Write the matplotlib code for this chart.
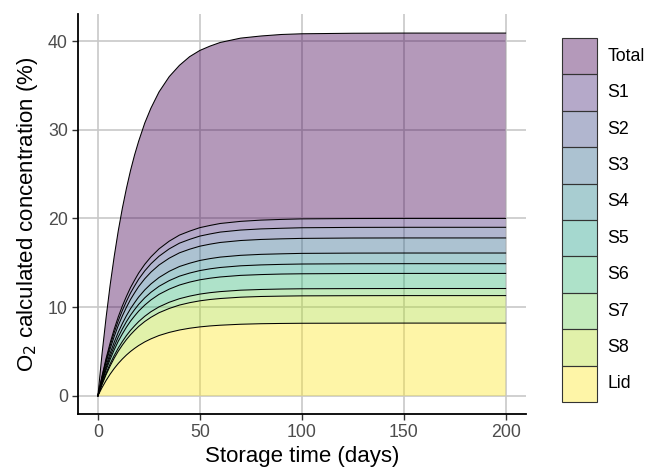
import matplotlib
matplotlib.use("Agg")
import matplotlib.pyplot as plt
from matplotlib.colors import to_rgba
from matplotlib.patches import Rectangle
import numpy as np

plt.rcParams['font.family'] = ['Liberation Sans', 'DejaVu Sans']

days = [0, 2, 4, 6, 8, 10, 12, 14, 16, 18, 20, 23, 26, 30, 35, 40, 45, 50, 55, 60,
        70, 80, 90, 100, 125, 150, 200]

# contribution of each layer (%), bottom to top
lid = [0, 0.91, 1.72, 2.44, 3.08, 3.65, 4.15, 4.60, 5.00, 5.35, 5.67, 6.08, 6.42, 6.80,
       7.15, 7.42, 7.62, 7.77, 7.88, 7.96, 8.07, 8.13, 8.16, 8.18, 8.19, 8.2, 8.2]
s8 = [0, 0.34, 0.65, 0.92, 1.16, 1.38, 1.57, 1.74, 1.89, 2.02, 2.15, 2.30, 2.43, 2.57,
      2.70, 2.81, 2.88, 2.94, 2.98, 3.01, 3.05, 3.07, 3.08, 3.09, 3.10, 3.1, 3.1]
s7 = [0, 0.09, 0.17, 0.24, 0.30, 0.36, 0.40, 0.45, 0.49, 0.52, 0.55, 0.59, 0.63, 0.66,
      0.70, 0.72, 0.74, 0.76, 0.77, 0.78, 0.79, 0.79, 0.80, 0.80, 0.80, 0.8, 0.8]
s6 = [0, 0.19, 0.36, 0.50, 0.64, 0.76, 0.86, 0.95, 1.04, 1.11, 1.18, 1.26, 1.33, 1.41,
      1.48, 1.54, 1.58, 1.61, 1.63, 1.65, 1.67, 1.68, 1.69, 1.69, 1.70, 1.7, 1.7]
s5 = [0, 0.12, 0.23, 0.33, 0.41, 0.49, 0.56, 0.62, 0.67, 0.72, 0.76, 0.82, 0.86, 0.91,
      0.96, 1.00, 1.02, 1.04, 1.06, 1.07, 1.08, 1.09, 1.09, 1.10, 1.10, 1.1, 1.1]
s4 = [0, 0.13, 0.25, 0.36, 0.45, 0.53, 0.61, 0.67, 0.73, 0.78, 0.83, 0.89, 0.94, 0.99,
      1.05, 1.09, 1.11, 1.14, 1.15, 1.17, 1.18, 1.19, 1.19, 1.20, 1.20, 1.2, 1.2]
s3 = [0, 0.19, 0.36, 0.50, 0.64, 0.76, 0.86, 0.95, 1.04, 1.11, 1.18, 1.26, 1.33, 1.41,
      1.48, 1.54, 1.58, 1.61, 1.63, 1.65, 1.67, 1.68, 1.69, 1.69, 1.70, 1.7, 1.7]
s2 = [0, 0.13, 0.25, 0.36, 0.45, 0.53, 0.61, 0.67, 0.73, 0.78, 0.83, 0.89, 0.94, 0.99,
      1.05, 1.09, 1.11, 1.14, 1.15, 1.17, 1.18, 1.19, 1.19, 1.20, 1.20, 1.2, 1.2]
s1 = [0, 0.11, 0.21, 0.30, 0.38, 0.45, 0.51, 0.56, 0.61, 0.65, 0.69, 0.74, 0.78, 0.83,
      0.87, 0.91, 0.93, 0.95, 0.96, 0.97, 0.98, 0.99, 1.00, 1.00, 1.00, 1.0, 1.0]
# overall total (%)
total = [0, 4.66, 8.79, 12.47, 15.71, 18.61, 21.15, 23.39, 25.40, 27.16, 28.71, 30.76,
         32.43, 34.27, 35.99, 37.26, 38.24, 38.94, 39.43, 39.84, 40.33, 40.57, 40.74,
         40.82, 40.88, 40.9, 40.9]

layers = [lid, s8, s7, s6, s5, s4, s3, s2, s1]

# viridis, Total first ... Lid last
colors = ['#440154', '#482878', '#3E4A89', '#31688E', '#26828E',
          '#1F9E89', '#35B779', '#6DCD59', '#B4DE2C', '#FDE725']
legend_names = ['Total', 'S1', 'S2', 'S3', 'S4', 'S5', 'S6', 'S7', 'S8', 'Lid']
alpha = 0.4

W, H = 649, 469
fig = plt.figure(figsize=(W / 100, H / 100), dpi=100)
ax = fig.add_axes([77.5 / W, 1 - 414 / H, (526 - 77.5) / W, (414 - 14) / H])

x = np.array(days)
lower = np.zeros(len(days))
layer_colors = colors[1:][::-1]  # Lid ... S1
for vals, col in zip(layers, layer_colors):
    upper = lower + np.array(vals)
    ax.fill_between(x, lower, upper, facecolor=to_rgba(col, alpha), edgecolor='none', zorder=1)
    ax.plot(x, upper, color='black', lw=0.75, zorder=3)
    lower = upper
ax.fill_between(x, lower, total, facecolor=to_rgba(colors[0], alpha), edgecolor='none', zorder=1)
ax.plot(x, total, color='black', lw=0.75, zorder=3)

ax.set_xlim(-10, 210)
ax.set_ylim(-2.05, 43.05)
ax.set_xticks([0, 50, 100, 150, 200])
ax.set_yticks([0, 10, 20, 30, 40])
ax.set_axisbelow(True)
ax.grid(True, color='#C8C8C8', lw=1.2)
for side in ['top', 'right']:
    ax.spines[side].set_visible(False)
for side in ['left', 'bottom']:
    ax.spines[side].set_linewidth(1.3)
ax.tick_params(axis='both', length=4, width=1.0, color='#333333',
               labelcolor='#4D4D4D', labelsize=12.8, pad=3)
ax.set_xlabel('Storage time (days)', fontsize=16, labelpad=4)
ax.set_ylabel('O$_2$ calculated concentration (%)', fontsize=16, labelpad=6)

# legend: stacked keys on their own axes
lax = fig.add_axes([562 / W, 1 - 402 / H, 35 / W, (402 - 38) / H])
lax.set_xlim(0, 1)
lax.set_ylim(len(legend_names), 0)
lax.axis('off')
for i, (name, col) in enumerate(zip(legend_names, colors)):
    lax.add_patch(Rectangle((0, i), 1, 1, facecolor=to_rgba(col, alpha),
                            edgecolor='#333333', lw=0.8, clip_on=False))
    lax.text(1.3, i + 0.5, name, fontsize=12.8, va='center', ha='left')

fig.savefig('out.png', dpi=100)
